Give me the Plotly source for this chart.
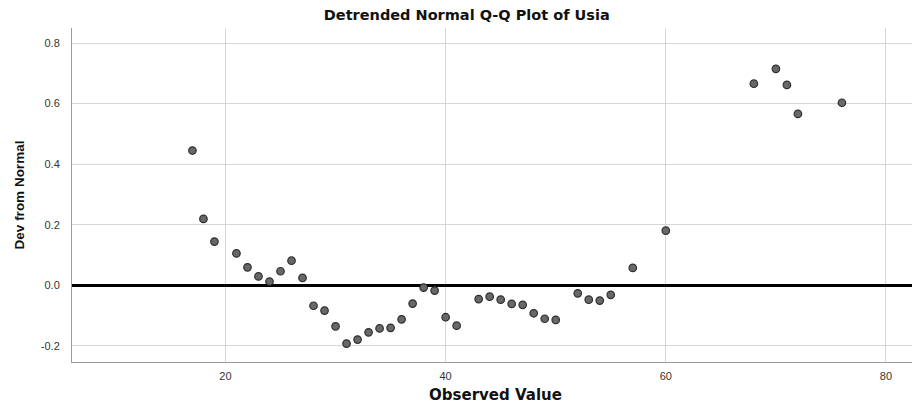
import plotly.graph_objects as go

observed = [17, 18, 19, 21, 22, 23, 24, 25, 26, 27, 28, 29, 30, 31, 32, 33, 34, 35, 36, 37,
            38, 39, 40, 41, 43, 44, 45, 46, 47, 48, 49, 50, 52, 53, 54, 55, 57, 60, 68, 70,
            71, 72, 76]
deviation = [0.445, 0.219, 0.144, 0.105, 0.059, 0.029, 0.012, 0.046, 0.081, 0.024,
             -0.068, -0.084, -0.136, -0.193, -0.180, -0.156, -0.143, -0.141, -0.113, -0.061,
             -0.008, -0.018, -0.106, -0.134, -0.046, -0.038, -0.048, -0.062, -0.065, -0.093,
             -0.111, -0.115, -0.027, -0.048, -0.051, -0.032, 0.057, 0.180, 0.666, 0.715,
             0.662, 0.566, 0.603]

x_ticks = [20, 40, 60, 80]
y_ticks = [-0.2, 0.0, 0.2, 0.4, 0.6, 0.8]
y_tick_labels = ["-0.2", "0.0", "0.2", "0.4", "0.6", "0.8"]

title_text = "Detrended Normal Q-Q Plot of Usia"
x_title = "Observed Value"
y_title = "Dev from Normal"

# page body has an 8px margin, so the figure is 8px smaller than the window
fig = go.Figure()
fig.add_trace(go.Scatter(
    x=observed, y=deviation, mode="markers",
    marker=dict(size=7.5, color="#686868", line=dict(color="#2e2e2e", width=1.2)),
    showlegend=False, hoverinfo="x+y"))

wide_bold = "DejaVu Sans, Liberation Sans, Arial, sans-serif"

fig.update_layout(
    width=912, height=400,
    paper_bgcolor="white", plot_bgcolor="white",
    margin=dict(l=64, r=1, t=20, b=46, autoexpand=False),
    font=dict(family="Liberation Sans, Arial, sans-serif", color="#222"),
    title=dict(text=title_text, x=0.503, xanchor="center", y=0.995, yanchor="top",
               yref="container", pad=dict(t=0, b=0),
               font=dict(size=14.5, color="#111", family=wide_bold, weight="bold")),
    xaxis=dict(range=[6.06, 83.0], tickvals=x_ticks, showgrid=True, gridcolor="#d6d6d6",
               gridwidth=1, zeroline=False, showline=True, linecolor="#9a9a9a", linewidth=1,
               ticks="", tickfont=dict(size=11, color="#333"), ticklabelstandoff=4,
               automargin=False,
               title=dict(text=x_title, standoff=8,
                          font=dict(size=15, color="#111", family=wide_bold,
                                    weight="bold"))),
    yaxis=dict(range=[-0.254, 0.85], tickvals=y_ticks, ticktext=y_tick_labels,
               showgrid=True, gridcolor="#d6d6d6", gridwidth=1,
               zeroline=True, zerolinecolor="#000", zerolinewidth=2.5,
               showline=True, linecolor="#9a9a9a", linewidth=1,
               ticks="", tickfont=dict(size=11, color="#333"), ticklabelstandoff=9,
               automargin=False,
               title=dict(text=y_title, standoff=13,
                          font=dict(size=13.5, color="#111", weight="bold"))),
)

fig.write_html("out.html")
